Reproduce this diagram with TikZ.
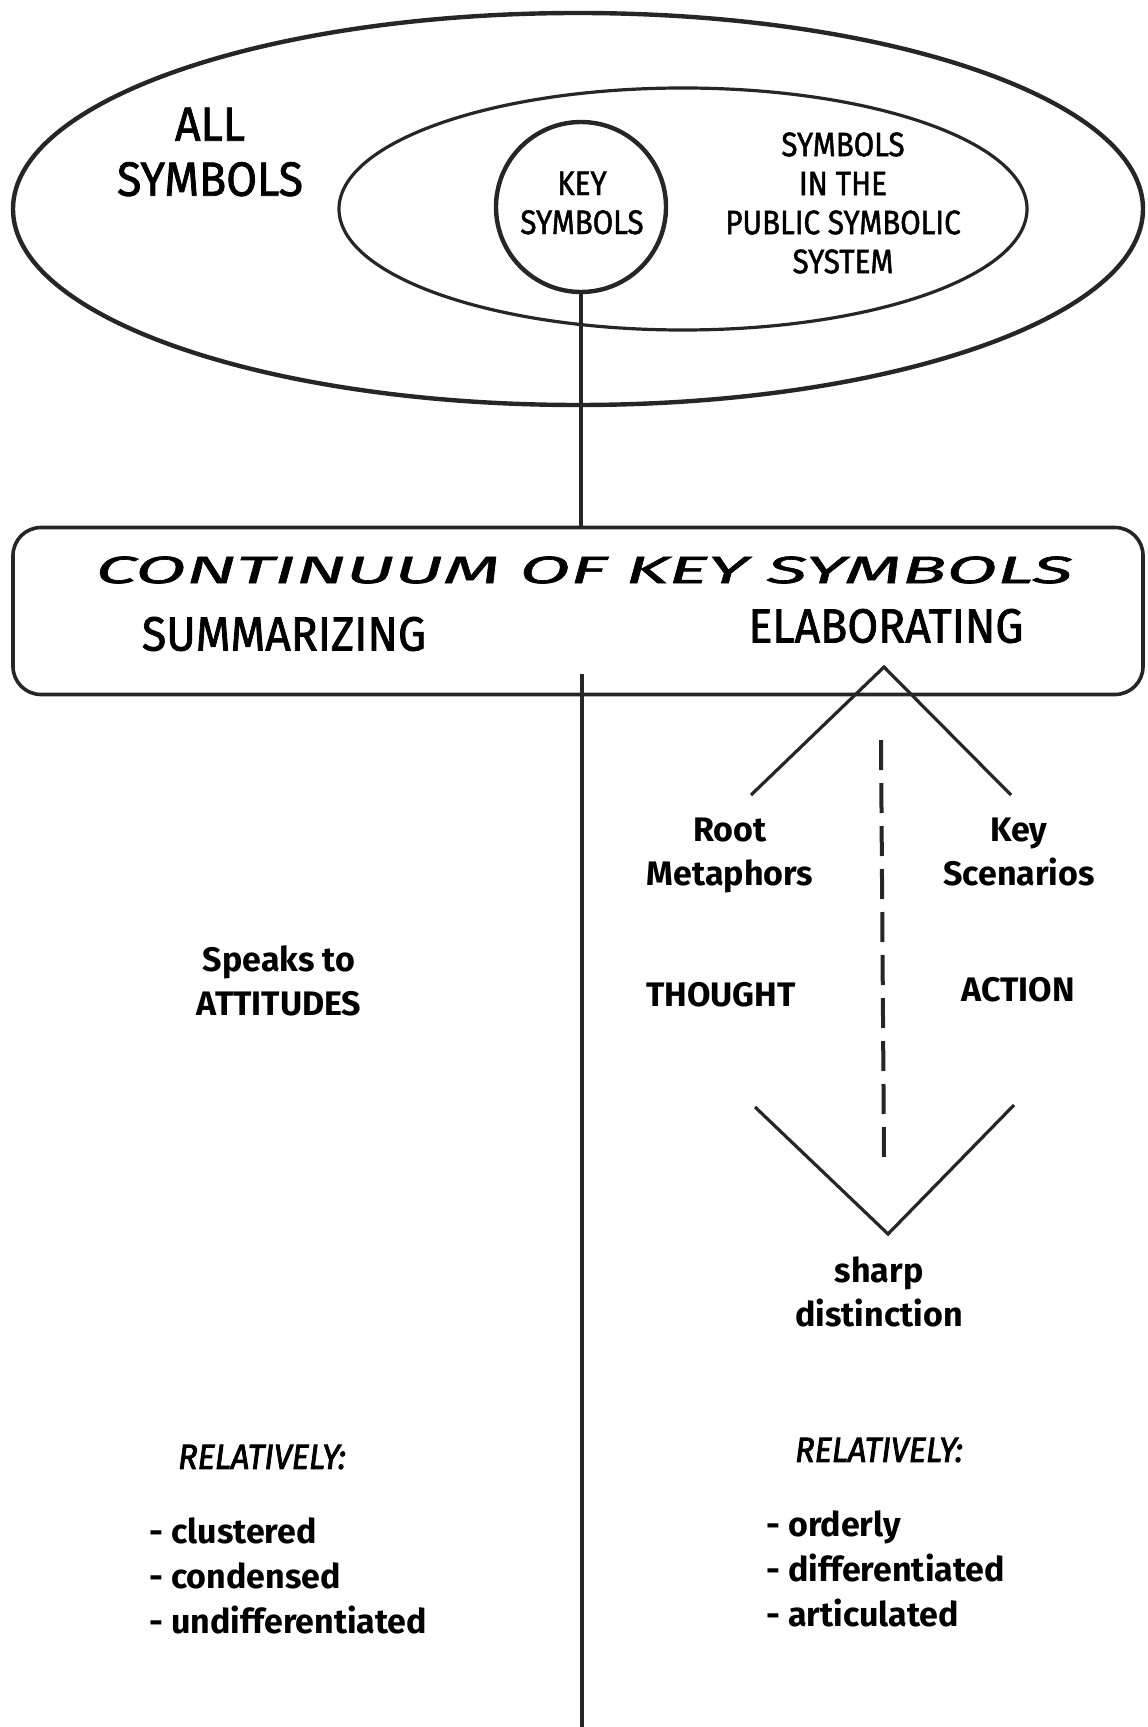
\documentclass[tikz,border=0pt]{standalone}
\usepackage{fontspec}
\setmainfont{Fira Sans}
\newfontfamily\narrowfont[FakeStretch=0.93,FakeBold=1.6]{Fira Sans}
\newfontfamily\thinfont[FakeStretch=0.87,FakeBold=1.4]{Fira Sans}
\newfontfamily\widefont[FakeStretch=1.95,FakeBold=1.6]{Fira Sans}
\newfontfamily\slantfont[FakeStretch=0.93,FakeBold=2.4]{Fira Sans}
\usetikzlibrary{
  positioning,
  shapes,
}
\tikzstyle{ring} = [
  draw,
  ellipse,
  inner sep=0pt,
  outer sep=0pt,
  line width=2.2pt,
  color=black!85,
]
\tikzstyle{bigcaps} = [font=\narrowfont\fontsize{24}{27.5}\selectfont, align=center, inner sep=0pt]
\tikzstyle{smallcaps} = [font=\thinfont\fontsize{17}{19.5}\selectfont, align=center, inner sep=0pt]
\tikzstyle{words} = [font=\bfseries\fontsize{17}{22}\selectfont, align=center, inner sep=0pt]
\tikzstyle{listing} = [font=\bfseries\fontsize{17}{22.5}\selectfont, align=left, anchor=west, inner sep=0pt]
\tikzstyle{stroke} = [line width=1.6pt, color=black!85]

\begin{document}
\begin{tikzpicture}[x=0.5pt, y=-0.5pt, node distance=0mm and 0mm]
  \useasboundingbox (0,0) rectangle (1147,1727);

  % sets of symbols
  \node[ring,minimum width=565pt,minimum height=196pt]    (all)  at (578,209)   {};
  \node[ring,minimum width=344pt,minimum height=121pt,line width=1.6pt]    (pub)  at (683,209)   {};
  \node[ring,circle,minimum size=85pt]    (key)  at (581,207)   {};

  \node[bigcaps]    (alltxt)  at (210,152)   {ALL\\SYMBOLS};
  \node[smallcaps]    (keytxt)  at (582,203)   {KEY\\SYMBOLS};
  \node[smallcaps]    (pubtxt)  at (843,203)   {SYMBOLS\\IN THE\\PUBLIC SYMBOLIC\\SYSTEM};

  % continuum box
  \node[draw,rounded corners=14pt,minimum width=565pt,minimum height=83.5pt,line width=1.8pt,color=black!85]    (cont)  at (578,611)   {};
  \node[font=\widefont\itshape\fontsize{19}{22}\selectfont,inner sep=0pt]    (conttxt)  at (584,570)   {CONTINUUM OF KEY SYMBOLS};
  \node[bigcaps]    (sum)  at (284,634)   {SUMMARIZING};
  \node[bigcaps]    (elab)  at (886,626)   {ELABORATING};

  \draw[stroke] (key.south) -- (key.south |- cont.north);

  \coordinate (axis) at (582,674);
  \coordinate (axisend) at (582,1727);
  \draw[stroke] (axis) -- (axisend);

  % elaborating branches
  \coordinate (peak) at (884,667);
  \coordinate (rmtip) at (751,795);
  \coordinate (kstip) at (1011,795);
  \draw[stroke] (rmtip) -- (peak) -- (kstip);

  \coordinate (vleft) at (755,1107);
  \coordinate (vbottom) at (888,1234);
  \coordinate (vright) at (1014,1105);
  \draw[stroke] (vleft) -- (vbottom) -- (vright);

  \coordinate (dtop) at (881,740);
  \coordinate (dend) at (884,1157);
  \draw[stroke,line width=2pt,dash pattern=on 15pt off 6.5pt] (dtop) -- (dend);

  \node[words]    (rm)  at (730,855)   {Root\\Metaphors};
  \node[words]    (ks)  at (1019,852)   {Key\\Scenarios};
  \node[words]    (thought)  at (721,995)   {THOUGHT};
  \node[words]    (action)  at (1018,990)   {ACTION};
  \node[words]    (sharp)  at (879,1292)   {sharp\\distinction};

  \node[words]    (speaks)  at (279,981)   {Speaks to\\ATTITUDES};

  % relatively
  \node[words,font=\slantfont\itshape\fontsize{17.5}{22}\selectfont]    (relleft)  at (262,1457)   {RELATIVELY:};
  \node[words,font=\slantfont\itshape\fontsize{17.5}{22}\selectfont]    (relright)  at (879,1450)   {RELATIVELY:};
  \node[listing]    (listleft)  at (149,1576)   {- clustered\\- condensed\\- undifferentiated};
  \node[listing]    (listright)  at (766,1569)   {- orderly\\- differentiated\\- articulated};
\end{tikzpicture}
\end{document}
